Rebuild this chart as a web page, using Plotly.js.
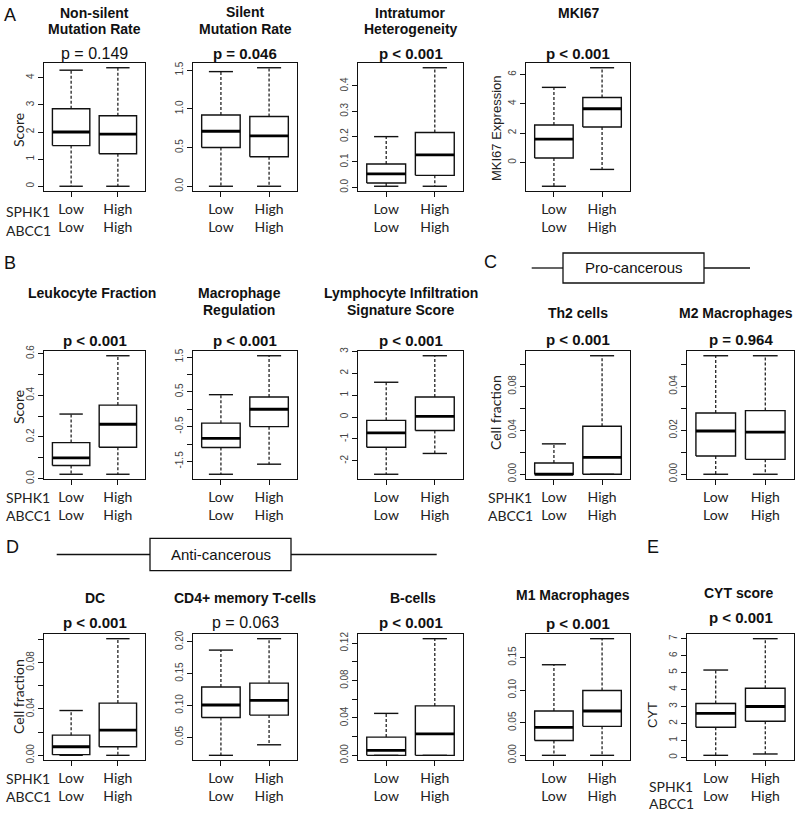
<!DOCTYPE html>
<html><head><meta charset="utf-8">
<script src="https://cdn.plot.ly/plotly-3.0.1.min.js"></script>
<style>html,body{margin:0;padding:0;background:#fff}#chart{width:800px;height:814px}</style>
</head><body><div id="chart"></div>
<script>
// ---------------- DATA ----------------
const panelTitles = [
  ["Non-silent","Mutation Rate"], ["Silent","Mutation Rate"], ["Intratumor","Heterogeneity"], ["MKI67"],
  ["Leukocyte Fraction"], ["Macrophage","Regulation"], ["Lymphocyte Infiltration","Signature Score"],
  ["Th2 cells"], ["M2 Macrophages"],
  ["DC"], ["CD4+ memory T-cells"], ["B-cells"], ["M1 Macrophages"], ["CYT score"]
];
const pValues = ["p = 0.149","p = 0.046","p < 0.001","p < 0.001","p < 0.001","p < 0.001","p < 0.001",
                 "p < 0.001","p = 0.964","p < 0.001","p = 0.063","p < 0.001","p < 0.001","p < 0.001"];
const pBold = [false,true,true,true,true,true,true,true,true,true,false,true,true,true];
const yLabels = ["Score","","","MKI67 Expression","Score","","","Cell fraction","","Cell fraction","","","","CYT"];
const groupLabels = ["Low<br>Low","High<br>High"];
const rowLabels = ["SPHK1","ABCC1"];
const sectionLabels = ["A","B","C","D","E"];
const sectionBoxes = ["Pro-cancerous","Anti-cancerous"];

// box statistics: min whisker, Q1, median, Q3, max whisker
const lowMin  = [0,    0,    0.004, -1.63, 0.021, -1.87, -2.61, 0,      0,      0,      0.0214, 0,      0,      0.12];
const lowQ1   = [1.5,  0.5,  0.017,  0.30, 0.063, -1.10, -1.38, 0,      0.0083, 0.0006, 0.081,  0,      0.0227, 1.78];
const lowMed  = [2.0,  0.71, 0.053,  1.59, 0.100, -0.84, -0.72, 0,      0.0197, 0.0074, 0.1006, 0.0053, 0.043,  2.60];
const lowQ3   = [2.86, 0.92, 0.092,  2.55, 0.173, -0.40, -0.15, 0.0102, 0.0279, 0.0174, 0.129,  0.0195, 0.068,  3.18];
const lowMax  = [4.28, 1.48, 0.200,  5.12, 0.310,  0.42,  1.59, 0.0277, 0.054,  0.0386, 0.187,  0.0449, 0.139,  5.15];
const highMin = [0,    0,    0.004, -0.48, 0.021, -1.58, -1.66, 0,      0,      0,      0.038,  0,      0,      0.20];
const highQ1  = [1.2,  0.38, 0.047,  2.41, 0.151, -0.50, -0.61, 0,      0.0068, 0.0074, 0.0847, 0,      0.0445, 2.13];
const highMed = [1.92, 0.65, 0.128,  3.66, 0.261,  0.00,  0.03, 0.0153, 0.0192, 0.0217, 0.108,  0.023,  0.068,  3.00];
const highQ3  = [2.6,  0.90, 0.216,  4.43, 0.353,  0.355, 0.92, 0.0437, 0.029,  0.045,  0.135,  0.0529, 0.0995, 4.08];
const highMax = [4.37, 1.53, 0.472,  6.46, 0.590,  1.54,  2.80, 0.108,  0.054,  0.1005, 0.205,  0.1249, 0.179,  7.00];

const yTickVals = [
  [0,1,2,3,4],[0,0.5,1,1.5],[0,0.1,0.2,0.3,0.4],[0,2,4,6],
  [0,0.1,0.2,0.3,0.4,0.5,0.6],[-1.5,-1,-0.5,0,0.5,1,1.5],[-2,-1,0,1,2,3],
  [0,0.02,0.04,0.06,0.08,0.1],[0,0.01,0.02,0.03,0.04,0.05],
  [0,0.02,0.04,0.06,0.08,0.1],[0.05,0.1,0.15,0.2],[0,0.02,0.04,0.06,0.08,0.1,0.12],[0,0.05,0.1,0.15],[0,1,2,3,4,5,6,7]
];
const yTickText = [
  ["0","1","2","3","4"],["0.0","0.5","1.0","1.5"],["0.0","0.1","0.2","0.3","0.4"],["0","2","4","6"],
  ["0.0","","0.2","","0.4","","0.6"],["-1.5","","-0.5","","0.5","","1.5"],["-2","-1","0","1","2","3"],
  ["0.00","","0.04","","0.08",""],["0.00","","0.02","","0.04",""],
  ["0.00","","0.04","","0.08",""],["0.05","0.10","0.15","0.20"],["0.00","","0.04","","0.08","","0.12"],["0.00","0.05","0.10","0.15"],["0","1","2","3","4","5","6","7"]
];

// ---------------- LAYOUT (pixels) ----------------
const W = 800, H = 814;
const cols = [[44,145],[193,297],[358,463],[526,630],[687,794]];
const rows = [[63,191],[351,479],[634,760]];
const place = [[0,0],[1,0],[2,0],[3,0],[0,1],[1,1],[2,1],[3,1],[4,1],[0,2],[1,2],[2,2],[3,2],[4,2]];
const titleY = [[13,29],[12,29],[13,29],[13],[293],[293,310],[293,310],[313],[313],[598],[598],[598],[595],[593]];
const titleDx = [0,0,0,0,-3,-6,-10,0,-5,0,0,2,-5,-2];
const pY = [53,53,53,53,341,341,341,339,339,622,622,622,623,617];
const yLabelPos = [[18,130],null,null,[497,128],[18,407],null,null,[495,413],null,[18,697],null,null,null,[652,715]];
const rowLabelPos = [[4,211,230],[4,497,515],[486,497,515],[4,778,796],[647,786,803]];

const FA = "Liberation Sans, Arial, sans-serif";
const FL = "Lato, Carlito, Open Sans, sans-serif";
const px = v => v / W, py = v => 1 - v / H;

const traces = [];
const layout = {width:W, height:H, margin:{l:0,r:0,t:0,b:0}, showlegend:false,
  paper_bgcolor:'#fff', plot_bgcolor:'#fff', annotations:[], shapes:[]};

const BW = 0.4, CW = 0.25;
for (let i = 0; i < panelTitles.length; i++) {
  const n = i + 1, sfx = n === 1 ? '' : String(n);
  const xa = 'x' + sfx, ya = 'y' + sfx;
  const [L, R] = cols[place[i][0]], [T, B] = rows[place[i][1]];
  const stats = [[lowMin[i], lowQ1[i], lowMed[i], lowQ3[i], lowMax[i]],
                 [highMin[i], highQ1[i], highMed[i], highQ3[i], highMax[i]]];
  const bx=[],by=[],mx=[],my=[],wx=[],wy=[],cx=[],cy=[];
  stats.forEach((s, g) => {
    const c = g + 1; const [mn, q1, md, q3, mxv] = s;
    bx.push(c-BW,c+BW,c+BW,c-BW,c-BW,null); by.push(q1,q1,q3,q3,q1,null);
    mx.push(c-BW,c+BW,null); my.push(md,md,null);
    wx.push(c,c,null,c,c,null); wy.push(q3,mxv,null,q1,mn,null);
    cx.push(c-CW,c+CW,null,c-CW,c+CW,null); cy.push(mxv,mxv,null,mn,mn,null);
  });
  const base = {type:'scatter', mode:'lines', xaxis:xa, yaxis:ya, hoverinfo:'skip'};
  traces.push(Object.assign({x:wx, y:wy, line:{color:'#111', width:1.2, dash:'3px,2px'}}, base));
  traces.push(Object.assign({x:cx, y:cy, line:{color:'#111', width:1.4}}, base));
  traces.push(Object.assign({x:bx, y:by, line:{color:'#111', width:1.4}}, base));
  traces.push(Object.assign({x:mx, y:my, line:{color:'#000', width:2.8}}, base));

  const all = stats.flat();
  const lo = Math.min(...all), hi = Math.max(...all), pad = 0.04 * (hi - lo);
  layout['xaxis' + sfx] = {domain:[px(L), px(R)], anchor:ya, range:[0.42, 2.58], tickvals:[1,2], ticktext:groupLabels,
    showline:true, mirror:true, linecolor:'#111', linewidth:1.4, ticks:'outside', ticklen:5, tickcolor:'#111',
    showgrid:false, zeroline:false, fixedrange:true, tickfont:{family:FL, size:14, color:'#222'}};
  layout['yaxis' + sfx] = {domain:[py(B), py(T)], anchor:xa, range:[lo - pad, hi + pad], tickvals:yTickVals[i], ticktext:yTickText[i],
    tickangle:-90, showline:true, mirror:true, linecolor:'#111', linewidth:1.4, ticks:'outside', ticklen:5, tickcolor:'#111',
    showgrid:false, zeroline:false, fixedrange:true, tickfont:{family:FA, size:10, color:'#444'}};

  const cxp = (L + R) / 2;
  panelTitles[i].forEach((t, k) => {
    layout.annotations.push({xref:'paper', yref:'paper', x:px(cxp + titleDx[i]), y:py(titleY[i][k]), xanchor:'center', yanchor:'middle',
      showarrow:false, text:'<b>' + t + '</b>', font:{family:FA, size:14, color:'#111'}});
  });
  layout.annotations.push({xref:'paper', yref:'paper', x:px(cxp), y:py(pY[i]), xanchor:'center', yanchor:'middle', showarrow:false,
    text: pBold[i] ? '<b>' + pValues[i] + '</b>' : pValues[i], font:{family:FA, size:pBold[i] ? 15 : 16, color:'#111'}});
  if (yLabels[i]) {
    const p = yLabelPos[i];
    layout.annotations.push({xref:'paper', yref:'paper', x:px(p[0]), y:py(p[1]), xanchor:'center', yanchor:'middle', showarrow:false,
      textangle:-90, text:yLabels[i], font:{family: (i===3||i===13) ? FA : FL, size: (i===3||i===13) ? 13 : 14, color:'#222'}});
  }
}
rowLabelPos.forEach(p => {
  rowLabels.forEach((t, k) => layout.annotations.push({xref:'paper', yref:'paper', x:px(p[0]), y:py(p[1 + k]), xanchor:'left', yanchor:'middle',
    showarrow:false, text:t, font:{family:FL, size:14, color:'#222'}}));
});
const secPos = [[10,15],[10,263],[490,262],[12,547],[653,547]];
sectionLabels.forEach((t, k) => layout.annotations.push({xref:'paper', yref:'paper', x:px(secPos[k][0]), y:py(secPos[k][1]),
  xanchor:'center', yanchor:'middle', showarrow:false, text:t, font:{family:FA, size:18, color:'#111'}}));

// section bracket boxes
const brackets = [{l1:531.7, bl:563, br:704, l2:750, top:253, bot:283}, {l1:56.7, bl:150, br:291, l2:436.7, top:538.3, bot:570.7}];
brackets.forEach((b, k) => {
  const ym = (b.top + b.bot) / 2;
  const ln = {color:'#111', width:1.3};
  layout.shapes.push({type:'line', xref:'paper', yref:'paper', x0:px(b.l1), x1:px(b.bl), y0:py(ym), y1:py(ym), line:ln});
  layout.shapes.push({type:'rect', xref:'paper', yref:'paper', x0:px(b.bl), x1:px(b.br), y0:py(b.bot), y1:py(b.top), line:ln});
  layout.shapes.push({type:'line', xref:'paper', yref:'paper', x0:px(b.br), x1:px(b.l2), y0:py(ym), y1:py(ym), line:ln});
  layout.annotations.push({xref:'paper', yref:'paper', x:px((b.bl + b.br) / 2), y:py(ym), xanchor:'center', yanchor:'middle',
    showarrow:false, text:sectionBoxes[k], font:{family:FA, size:15, color:'#111'}});
});

Plotly.newPlot('chart', traces, layout, {staticPlot:true, displayModeBar:false});
</script></body></html>
